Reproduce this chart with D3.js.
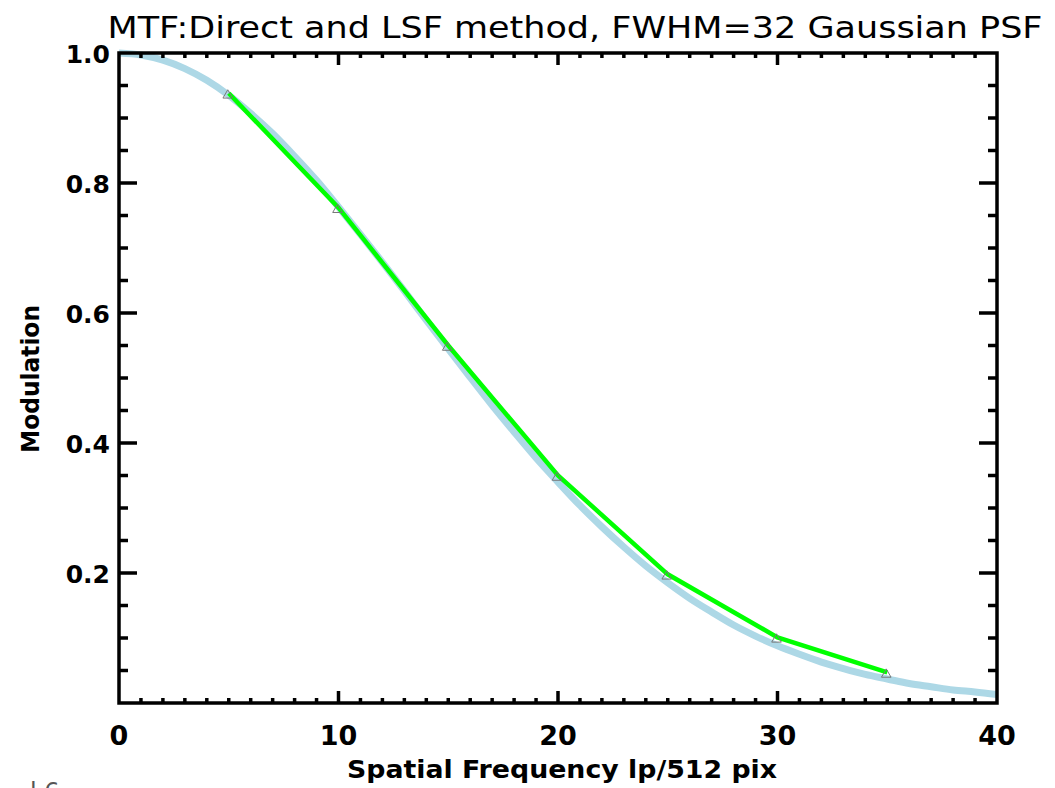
<!DOCTYPE html>
<html>
<head>
<meta charset="utf-8">
<script src="https://cdn.jsdelivr.net/npm/d3@7"></script>
<style>
  html, body { margin: 0; padding: 0; background: #fff; }
  svg { display: block; }
</style>
</head>
<body>
<svg id="chart" width="1055" height="788"></svg>
<script>
// ---- data ----
const titleText = "MTF:Direct and LSF method, FWHM=32 Gaussian PSF";
const xTitle = "Spatial Frequency lp/512 pix";
const yTitle = "Modulation";
const xTickValues = [0, 10, 20, 30, 40];
const xTickLabels = ["0", "10", "20", "30", "40"];
const yTickValues = [0.2, 0.4, 0.6, 0.8, 1.0];
const yTickLabels = ["0.2", "0.4", "0.6", "0.8", "1.0"];

// light-blue theoretical MTF curve, sampled at each spatial frequency 0..40
const curveFreq = [0,1,2,3,4,5,6,7,8,9,10,11,12,13,14,15,16,17,18,19,20,
                   21,22,23,24,25,26,27,28,29,30,31,32,33,34,35,36,37,38,39,40];
const curveMod  = [1.000,0.997,0.989,0.976,0.958,0.935,0.907,0.876,0.841,0.804,0.763,
                   0.721,0.678,0.634,0.589,0.545,0.501,0.458,0.417,0.377,0.340,
                   0.304,0.271,0.240,0.211,0.185,0.161,0.140,0.120,0.103,0.088,
                   0.075,0.063,0.053,0.044,0.037,0.030,0.025,0.020,0.017,0.013];

// green measured (LSF) series with triangle markers
const lsfFreq = [5, 10, 15, 20, 25, 30, 35];
const lsfMod  = [0.938, 0.762, 0.550, 0.350, 0.198, 0.101, 0.047];

// ---- layout ----
const svg = d3.select("#chart");
const L = 119, R = 997, T = 53, B = 703;
const x = d3.scaleLinear().domain([0, 40]).range([L, R]);
const y = d3.scaleLinear().domain([0, 1]).range([B, T]);
const fontFam = "'DejaVu Sans', 'Liberation Sans', sans-serif";

// title
svg.append("text")
  .attr("x", 575).attr("y", 38)
  .attr("text-anchor", "middle")
  .attr("font-family", fontFam)
  .attr("font-size", 31)
  .attr("textLength", 935).attr("lengthAdjust", "spacingAndGlyphs")
  .attr("fill", "#000")
  .text(titleText);

// curves (clipped to plot)
svg.append("clipPath").attr("id", "clip")
  .append("rect").attr("x", L).attr("y", T - 4).attr("width", R - L).attr("height", B - T + 4);

const curveLine = d3.line().x((d, i) => x(curveFreq[i])).y(d => y(d)).curve(d3.curveMonotoneX);
svg.append("path")
  .attr("clip-path", "url(#clip)")
  .attr("d", curveLine(curveMod))
  .attr("fill", "none")
  .attr("stroke", "#add8e6")
  .attr("stroke-width", 7)
  .attr("stroke-linecap", "butt");

const lsfLine = d3.line().x((d, i) => x(lsfFreq[i])).y(d => y(d));
svg.append("path")
  .attr("d", lsfLine(lsfMod))
  .attr("fill", "none")
  .attr("stroke", "#00ff00")
  .attr("stroke-width", 4.5)
  .attr("stroke-linejoin", "miter");

// triangle markers
const tri = d3.symbol().type(d3.symbolTriangle).size(40);
svg.append("g").selectAll("path")
  .data(lsfMod)
  .join("path")
  .attr("transform", (d, i) => `translate(${x(lsfFreq[i]) - 1},${y(d) + 2})`)
  .attr("d", tri())
  .attr("fill", "none")
  .attr("stroke", "#777")
  .attr("stroke-width", 1);

// axes frame with ticks (IDL style: ticks on all four sides, pointing inward)
const axisColor = "#000";
const majX = 12, minX = 5, majY = 18, minY = 9;
const gFrame = svg.append("g");

gFrame.append("rect")
  .attr("x", L).attr("y", T).attr("width", R - L).attr("height", B - T)
  .attr("fill", "none").attr("stroke", axisColor).attr("stroke-width", 3.5);

const xTicksAll = x.ticks(40);
gFrame.append("g").selectAll("line")
  .data(xTicksAll.filter(v => v > 0 && v < 40))
  .join("line")
  .attr("x1", d => x(d)).attr("x2", d => x(d))
  .attr("y1", B).attr("y2", d => B - (d % 10 === 0 ? majX : minX))
  .attr("stroke", axisColor).attr("stroke-width", 3.5);
gFrame.append("g").selectAll("line")
  .data(xTicksAll.filter(v => v > 0 && v < 40))
  .join("line")
  .attr("x1", d => x(d)).attr("x2", d => x(d))
  .attr("y1", T).attr("y2", d => T + (d % 10 === 0 ? majX : minX))
  .attr("stroke", axisColor).attr("stroke-width", 3.5);

const yTicksAll = y.ticks(20);
gFrame.append("g").selectAll("line")
  .data(yTicksAll.filter(v => v > 0 && v < 1))
  .join("line")
  .attr("y1", d => y(d)).attr("y2", d => y(d))
  .attr("x1", L).attr("x2", d => L + (Math.round(d * 100) % 20 === 0 ? majY : minY))
  .attr("stroke", axisColor).attr("stroke-width", 3.5);
gFrame.append("g").selectAll("line")
  .data(yTicksAll.filter(v => v > 0 && v < 1))
  .join("line")
  .attr("y1", d => y(d)).attr("y2", d => y(d))
  .attr("x1", R).attr("x2", d => R - (Math.round(d * 100) % 20 === 0 ? majY : minY))
  .attr("stroke", axisColor).attr("stroke-width", 3.5);

// tick labels
svg.append("g").selectAll("text")
  .data(xTickValues)
  .join("text")
  .attr("x", d => x(d)).attr("y", 745)
  .attr("text-anchor", "middle")
  .attr("font-family", fontFam).attr("font-weight", "bold").attr("font-size", 27)
  .text((d, i) => xTickLabels[i]);

svg.append("g").selectAll("text")
  .data(yTickValues)
  .join("text")
  .attr("x", 110).attr("y", d => y(d) + 10)
  .attr("text-anchor", "end")
  .attr("font-family", fontFam).attr("font-weight", "bold").attr("font-size", 25)
  .text((d, i) => yTickLabels[i]);

// axis titles
svg.append("text")
  .attr("x", 562).attr("y", 778)
  .attr("text-anchor", "middle")
  .attr("font-family", fontFam).attr("font-weight", "bold").attr("font-size", 24)
  .attr("textLength", 430).attr("lengthAdjust", "spacingAndGlyphs")
  .text(xTitle);

svg.append("text")
  .attr("transform", "translate(39,379) rotate(-90)")
  .attr("text-anchor", "middle")
  .attr("font-family", fontFam).attr("font-weight", "bold").attr("font-size", 25)
  .attr("textLength", 148).attr("lengthAdjust", "spacingAndGlyphs")
  .text(yTitle);

// clipped stray text at bottom-left of the reference
svg.append("text")
  .attr("x", 30).attr("y", 800)
  .attr("font-family", fontFam).attr("font-size", 24)
  .attr("fill", "#555")
  .text("l 6");
</script>
</body>
</html>
